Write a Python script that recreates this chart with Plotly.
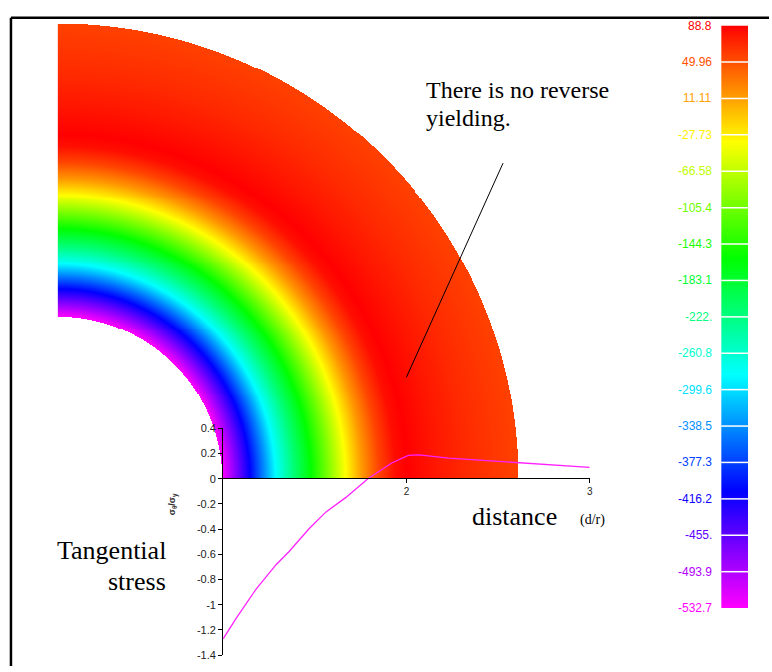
import numpy as np
import plotly.graph_objects as go
from plotly.colors import sample_colorscale

W, H = 772, 672

# ---------------- data ----------------
# radial stress profile of the contour field (d/r -> tangential stress)
field_r = [1.0, 1.1, 1.17, 1.25, 1.325, 1.43, 1.54, 1.65, 1.75, 1.85, 1.95, 2.05, 2.12, 2.3, 2.5, 2.806]
field_stress = [-532.7, -460.0, -408.0, -345.0, -284.0, -220.0, -160.0, -95.0, -35.0, 15.0, 55.0, 82.0, 88.8, 78.0, 68.0, 57.0]
r_inner, r_outer = 1.0, 2.806

# inset curve: normalized tangential stress vs distance
curve_x = [1.0, 1.07, 1.18, 1.29, 1.36, 1.47, 1.56, 1.67, 1.79, 1.92, 2.01, 2.07, 2.23, 2.45, 2.65, 2.86, 3.0]
curve_y = [-1.27, -1.11, -0.875, -0.68, -0.577, -0.395, -0.265, -0.148, 0.0, 0.125, 0.185, 0.19, 0.164, 0.143, 0.122, 0.107, 0.09]

# inset tick labels
inset_yticks = [0.4, 0.2, 0, -0.2, -0.4, -0.6, -0.8, -1, -1.2, -1.4]
inset_yticktext = ["0.4", "0.2", "0", "-0.2", "-0.4", "-0.6", "-0.8", "-1", "-1.2", "-1.4"]
inset_xticks = [2, 3]
inset_xticktext = ["2", "3"]

# legend (colorbar) levels
legend_values = [88.8, 49.96, 11.11, -27.73, -66.58, -105.4, -144.3, -183.1, -222.0,
                 -260.8, -299.6, -338.5, -377.3, -416.2, -455.0, -493.9, -532.7]
legend_text = ["88.8", "49.96", "11.11", "-27.73", "-66.58", "-105.4", "-144.3", "-183.1", "-222.",
               "-260.8", "-299.6", "-338.5", "-377.3", "-416.2", "-455.", "-493.9", "-532.7"]

vmin, vmax = -532.7, 88.8
colorscale = [[0.0, "#FF00FF"], [0.2, "#0000FF"], [0.4, "#00FFFF"],
              [0.6, "#00FF00"], [0.8, "#FFFF00"], [1.0, "#FF0000"]]

def px_x(p):
    return p / W

def px_y(p):
    return 1 - p / H

fig = go.Figure()

# ---------------- field (quarter annulus) ----------------
n = 463
g = np.linspace(0, r_outer, n)
X, Y = np.meshgrid(g, g)
R = np.sqrt(X ** 2 + Y ** 2)
Z = np.interp(R, field_r, field_stress)
Z = np.where((R >= r_inner) & (R <= r_outer), np.round(Z, 1), np.nan)

fig.add_trace(go.Heatmap(
    x=g, y=g, z=Z, colorscale=colorscale, zmin=vmin, zmax=vmax,
    showscale=False, hoverinfo="skip", xaxis="x", yaxis="y"))

# ---------------- inset curve ----------------
fig.add_trace(go.Scatter(
    x=curve_x, y=curve_y, mode="lines",
    line=dict(color="#FF22FF", width=1.3), xaxis="x2", yaxis="y2",
    showlegend=False, hoverinfo="skip"))

# ---------------- legend bar ----------------
bar_vals = np.linspace(vmin, vmax, 300)
fig.add_trace(go.Heatmap(
    x=[0], y=bar_vals, z=[[v] for v in bar_vals], colorscale=colorscale,
    zmin=vmin, zmax=vmax, showscale=False, hoverinfo="skip", xaxis="x3", yaxis="y3"))

serif = "Liberation Serif, Times New Roman, serif"
sans = "Liberation Sans, Arial, sans-serif"

annotations = []
shapes = []

# legend separators and labels
label_colors = sample_colorscale(colorscale, [(v - vmin) / (vmax - vmin) for v in legend_values])
for v, t, c in zip(legend_values, legend_text, label_colors):
    annotations.append(dict(x=px_x(717), y=v, xref="paper", yref="y3", text=t,
                            xanchor="right", yanchor="middle", showarrow=False,
                            font=dict(family=sans, size=12, color=c)))
    if v not in (vmin, vmax):
        shapes.append(dict(type="line", xref="x3 domain", yref="y3", x0=0, x1=1, y0=v, y1=v,
                           line=dict(color="white", width=1.5)))

# text annotations
annotations += [
    dict(x=px_x(426), y=px_y(86), xref="paper", yref="paper", text="There is no reverse",
         xanchor="left", yanchor="middle", showarrow=False, font=dict(family=serif, size=24, color="black")),
    dict(x=px_x(426), y=px_y(114), xref="paper", yref="paper", text="yielding.",
         xanchor="left", yanchor="middle", showarrow=False, font=dict(family=serif, size=24, color="black")),
    dict(x=px_x(472), y=px_y(520), xref="paper", yref="paper", text="distance",
         xanchor="left", yanchor="middle", showarrow=False, font=dict(family=serif, size=26, color="black")),
    dict(x=px_x(580), y=px_y(523), xref="paper", yref="paper", text="(d/r)",
         xanchor="left", yanchor="middle", showarrow=False, font=dict(family=serif, size=14, color="black")),
    dict(x=px_x(169), y=px_y(554), xref="paper", yref="paper", text="Tangential",
         xanchor="right", yanchor="middle", showarrow=False, font=dict(family=serif, size=26, color="black")),
    dict(x=px_x(169), y=px_y(586), xref="paper", yref="paper", text="stress",
         xanchor="right", yanchor="middle", showarrow=False, font=dict(family=serif, size=26, color="black")),
    dict(x=px_x(174), y=px_y(507), xref="paper", yref="paper", text="<b>σ<sub>θ</sub>/σ<sub>y</sub></b>",
         textangle=-90, xanchor="center", yanchor="middle", showarrow=False,
         font=dict(family=sans, size=9, color="#333333")),
]

# pointer line and frame
shapes += [
    dict(type="line", xref="paper", yref="paper", x0=px_x(505), y0=px_y(160), x1=px_x(408), y1=px_y(378),
         line=dict(color="black", width=1)),
    dict(type="line", xref="paper", yref="paper", x0=px_x(11), y0=px_y(12), x1=1, y1=px_y(12),
         line=dict(color="black", width=2.5)),
    dict(type="line", xref="paper", yref="paper", x0=px_x(11), y0=px_y(12), x1=px_x(11), y1=0,
         line=dict(color="black", width=2.5)),
]

hidden = dict(visible=False, showgrid=False, zeroline=False, fixedrange=True)

fig.update_layout(
    width=W, height=H, autosize=False,
    margin=dict(l=0, r=0, t=0, b=0, pad=0),
    paper_bgcolor="white", plot_bgcolor="rgba(0,0,0,0)",
    showlegend=False,
    xaxis=dict(domain=[px_x(58), px_x(521)], range=[0, r_outer], **hidden),
    yaxis=dict(domain=[px_y(481), px_y(18)], range=[0, r_outer], anchor="x", **hidden),
    xaxis2=dict(domain=[px_x(224), px_x(592)], range=[1, 3], anchor="free", position=px_y(481),
                showline=True, linecolor="black", linewidth=1, ticks="outside", ticklen=4,
                tickcolor="black", tickvals=inset_xticks, ticktext=inset_xticktext,
                tickfont=dict(family=sans, size=10, color="#222222"),
                showgrid=False, zeroline=False, fixedrange=True),
    yaxis2=dict(domain=[px_y(661), px_y(430)], range=[-1.4, 0.4], anchor="x2",
                showline=True, linecolor="black", linewidth=1, ticks="outside", ticklen=4,
                tickcolor="black", tickvals=inset_yticks, ticktext=inset_yticktext,
                tickfont=dict(family=sans, size=11, color="#222222"),
                showgrid=False, zeroline=False, fixedrange=True),
    xaxis3=dict(domain=[px_x(724), px_x(751)], range=[-0.5, 0.5], **hidden),
    yaxis3=dict(domain=[px_y(613), px_y(20)], range=[vmin, vmax], anchor="x3", **hidden),
    annotations=annotations,
    shapes=shapes,
)

fig.write_html(
    "out.html",
    config={"displayModeBar": False, "responsive": False},
    post_script=("document.documentElement.style.margin='0';document.documentElement.style.padding='0';"
                 "document.body.style.margin='0';document.body.style.padding='0';"
                 "document.body.style.overflow='hidden';document.documentElement.style.overflow='hidden';"),
)
